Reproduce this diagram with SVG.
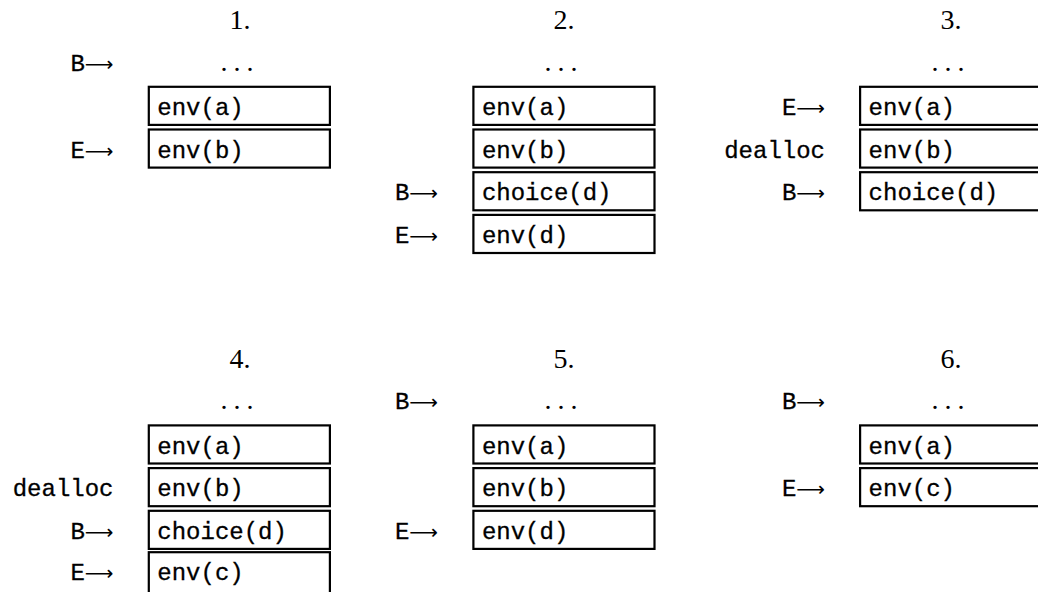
<svg xmlns="http://www.w3.org/2000/svg" width="1038" height="592" viewBox="0 0 1038 592">
  <style>
    .cell { fill: none; stroke: #000; stroke-width: 2.2; }
    .tt { font-family: "Liberation Mono", "DejaVu Sans Mono", monospace; font-size: 24px; fill: #000; stroke: #000; stroke-width: 0.3; }
    .num { font-family: "Liberation Serif", "DejaVu Serif", serif; font-size: 28px; fill: #000; text-anchor: middle; }
    .dots { font-family: "Liberation Serif", "DejaVu Serif", serif; font-size: 28px; letter-spacing: 6px; fill: #000; text-anchor: middle; }
    .ptr { font-family: "Liberation Mono", "DejaVu Sans Mono", monospace; font-size: 24px; fill: #000; stroke: #000; stroke-width: 0.3; text-anchor: end; }
    .arr { font-family: "DejaVu Sans", sans-serif; font-size: 20px; stroke: none; }
  </style>
  <rect width="1038" height="592" fill="#fff"/>

  <!-- Panel 1 -->
  <g id="panel1">
    <text class="num" x="240" y="29.3">1.</text>
    <text class="dots" x="240" y="70.7">...</text>
    <g id="p1-env-a"><rect class="cell" x="148.8" y="86.8" width="181.1" height="38.1"/><text class="tt" x="157.3" y="115">env(a)</text></g>
    <g id="p1-env-b"><rect class="cell" x="148.8" y="129.5" width="181.1" height="38.1"/><text class="tt" x="157.3" y="157.7">env(b)</text></g>
  </g>

  <!-- Panel 2 -->
  <g id="panel2">
    <text class="num" x="564" y="29.3">2.</text>
    <text class="dots" x="564" y="70.7">...</text>
    <g id="p2-env-a"><rect class="cell" x="473.4" y="86.8" width="181.1" height="38.1"/><text class="tt" x="481.9" y="115">env(a)</text></g>
    <g id="p2-env-b"><rect class="cell" x="473.4" y="129.5" width="181.1" height="38.1"/><text class="tt" x="481.9" y="157.7">env(b)</text></g>
    <g id="p2-choice-d"><rect class="cell" x="473.4" y="172.2" width="181.1" height="38.1"/><text class="tt" x="481.9" y="200.4">choice(d)</text></g>
    <g id="p2-env-d"><rect class="cell" x="473.4" y="214.9" width="181.1" height="38.1"/><text class="tt" x="481.9" y="243.1">env(d)</text></g>
  </g>

  <!-- Panel 3 -->
  <g id="panel3">
    <text class="num" x="951" y="29.3">3.</text>
    <text class="dots" x="951" y="70.7">...</text>
    <g id="p3-env-a"><rect class="cell" x="860.1" y="86.8" width="181.1" height="38.1"/><text class="tt" x="868.6" y="115">env(a)</text></g>
    <g id="p3-env-b"><rect class="cell" x="860.1" y="129.5" width="181.1" height="38.1"/><text class="tt" x="868.6" y="157.7">env(b)</text></g>
    <g id="p3-choice-d"><rect class="cell" x="860.1" y="172.2" width="181.1" height="38.1"/><text class="tt" x="868.6" y="200.4">choice(d)</text></g>
  </g>

  <!-- Panel 4 -->
  <g id="panel4">
    <text class="num" x="240" y="368">4.</text>
    <text class="dots" x="240" y="409.3">...</text>
    <g id="p4-env-a"><rect class="cell" x="148.8" y="425.4" width="181.1" height="38.1"/><text class="tt" x="157.3" y="453.6">env(a)</text></g>
    <g id="p4-env-b"><rect class="cell" x="148.8" y="468.1" width="181.1" height="38.1"/><text class="tt" x="157.3" y="496.3">env(b)</text></g>
    <g id="p4-choice-d"><rect class="cell" x="148.8" y="510.8" width="181.1" height="38.1"/><text class="tt" x="157.3" y="539">choice(d)</text></g>
    <g id="p4-env-c"><rect class="cell" x="148.8" y="552.2" width="181.1" height="48"/><text class="tt" x="157.3" y="580.4">env(c)</text></g>
  </g>

  <!-- Panel 5 -->
  <g id="panel5">
    <text class="num" x="564" y="368">5.</text>
    <text class="dots" x="564" y="409.3">...</text>
    <g id="p5-env-a"><rect class="cell" x="473.4" y="425.4" width="181.1" height="38.1"/><text class="tt" x="481.9" y="453.6">env(a)</text></g>
    <g id="p5-env-b"><rect class="cell" x="473.4" y="468.1" width="181.1" height="38.1"/><text class="tt" x="481.9" y="496.3">env(b)</text></g>
    <g id="p5-env-d"><rect class="cell" x="473.4" y="510.8" width="181.1" height="38.1"/><text class="tt" x="481.9" y="539">env(d)</text></g>
  </g>

  <!-- Panel 6 -->
  <g id="panel6">
    <text class="num" x="951" y="368">6.</text>
    <text class="dots" x="951" y="409.3">...</text>
    <g id="p6-env-a"><rect class="cell" x="860.1" y="425.4" width="181.1" height="38.1"/><text class="tt" x="868.6" y="453.6">env(a)</text></g>
    <g id="p6-env-c"><rect class="cell" x="860.1" y="468.1" width="181.1" height="38.1"/><text class="tt" x="868.6" y="496.3">env(c)</text></g>
  </g>

  <!-- Begin/End pointers and dealloc marks beside the stacks -->
  <g id="pointers">
    <text class="ptr" x="113.5" y="70.7">B<tspan class="arr">⟶</tspan></text>
    <text class="ptr" x="113.5" y="157.7">E<tspan class="arr">⟶</tspan></text>

    <text class="ptr" x="438" y="200.4">B<tspan class="arr">⟶</tspan></text>
    <text class="ptr" x="438" y="243.1">E<tspan class="arr">⟶</tspan></text>

    <text class="ptr" x="825" y="115">E<tspan class="arr">⟶</tspan></text>
    <text class="ptr" x="825" y="157.7">dealloc</text>
    <text class="ptr" x="825" y="200.4">B<tspan class="arr">⟶</tspan></text>

    <text class="ptr" x="113.5" y="496.3">dealloc</text>
    <text class="ptr" x="113.5" y="539">B<tspan class="arr">⟶</tspan></text>
    <text class="ptr" x="113.5" y="580.4">E<tspan class="arr">⟶</tspan></text>

    <text class="ptr" x="438" y="409.3">B<tspan class="arr">⟶</tspan></text>
    <text class="ptr" x="438" y="539">E<tspan class="arr">⟶</tspan></text>

    <text class="ptr" x="825" y="409.3">B<tspan class="arr">⟶</tspan></text>
    <text class="ptr" x="825" y="496.3">E<tspan class="arr">⟶</tspan></text>
  </g>
</svg>
